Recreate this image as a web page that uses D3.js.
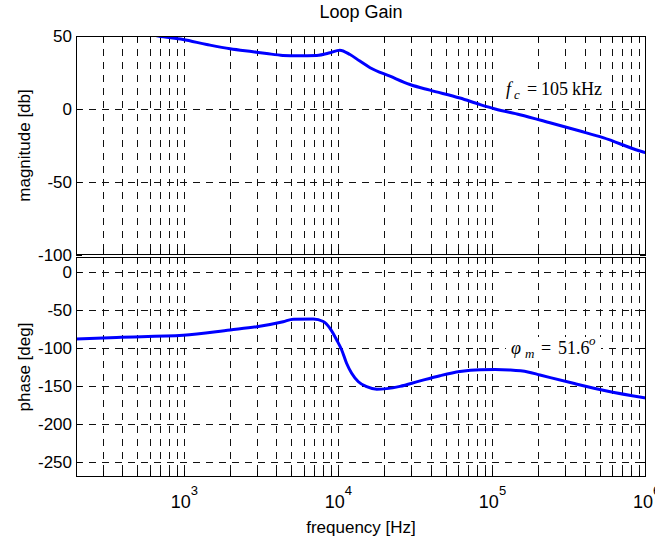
<!DOCTYPE html>
<html>
<head>
<meta charset="utf-8">
<script src="https://cdn.jsdelivr.net/npm/d3@7"></script>
<style>
  body { margin: 0; background: #fff; }
  svg { display: block; }
  text { font-family: "Liberation Sans", Arial, Helvetica, sans-serif; fill: #000; }
  .serif { font-family: "Liberation Serif", "Times New Roman", serif; }
</style>
</head>
<body>
<svg id="chart" width="655" height="543"></svg>
<script>
// Loop gain Bode data (frequency in Hz)
const magFreq = [500, 684, 990, 1410, 2000, 2820, 3450, 4400, 5500, 7300, 8900, 10300, 12000, 13900, 16200, 21800, 29400, 39600, 62000, 84000, 105000, 152000, 238000, 373000, 526000, 960000, 1000000];
const magDb   = [53, 50, 47.6, 44.2, 41.2, 39.2, 38, 36.7, 36.4, 36.7, 38.5, 40.3, 37.3, 32.8, 28.3, 22.5, 16.8, 12.9, 7.5, 3.0, 0, -3.9, -9.4, -15.1, -19.6, -29.5, -30];

const phaseFreq = [200, 367, 993, 2000, 2980, 4420, 5140, 6930, 8050, 8900, 9840, 10600, 11400, 12300, 13600, 15400, 17900, 20800, 25300, 33300, 46000, 62000, 84000, 105000, 130000, 171000, 205000, 338000, 556000, 1000000];
const phaseDeg  = [-88, -86, -83.3, -76.2, -71.9, -65.3, -62, -61.7, -65, -74, -89.4, -102.6, -120.1, -133.3, -144.4, -151, -154.4, -153.5, -150.5, -144, -136.5, -131, -128.6, -128.4, -129, -131.5, -135.5, -146.5, -156.6, -166];

const magTicks = [50, 0, -50, -100];
const phaseTicks = [0, -50, -100, -150, -200, -250];
const decadeTicks = [1e3, 1e4, 1e5, 1e6];
const decadeExp = ["3", "4", "5", "6"];

const titleText = "Loop Gain";
const xLabel = "frequency [Hz]";
const magLabel = "magnitude [db]";
const phaseLabel = "phase [deg]";

const freqDomain = [200, 1e6];
const magDomain = [-100, 50];
const phaseDomain = [-270, 20];

// layout
const left = 76, right = 646;
const magTop = 36, magBottom = 255;
const phTop = 257, phBottom = 477;
const tickLen = 6;
const px = v => Math.round(v) + 0.5;

const svg = d3.select("#chart");

const x = d3.scaleLog().domain(freqDomain).range([left, right]);
const yMag = d3.scaleLinear().domain(magDomain).range([magBottom, magTop]);
const yPh = d3.scaleLinear().domain(phaseDomain).range([phBottom, phTop]);

// all 1..9 multiples across the span, used for grid and ticks
const xGrid = x.ticks().filter(f => f > freqDomain[0] * 1.0001 && f < freqDomain[1] * 0.9999);

const defs = svg.append("defs");
defs.append("clipPath").attr("id", "clipMag")
  .append("rect").attr("x", left).attr("y", magTop).attr("width", right - left).attr("height", magBottom - magTop);
defs.append("clipPath").attr("id", "clipPh")
  .append("rect").attr("x", left).attr("y", phTop).attr("width", right - left).attr("height", phBottom - phTop);

function panel(yScale, yTicks, top, bottom) {
  const g = svg.append("g");

  // vertical dashed grid
  g.append("g").selectAll("line").data(xGrid).join("line")
    .attr("x1", d => px(x(d))).attr("x2", d => px(x(d)))
    .attr("y1", top).attr("y2", bottom)
    .attr("stroke", "#111").attr("stroke-width", 1)
    .attr("stroke-dasharray", "7,6");

  // horizontal dashed grid
  g.append("g").selectAll("line")
    .data(yTicks.filter(v => Math.abs(yScale(v) - top) > 1 && Math.abs(yScale(v) - bottom) > 1))
    .join("line")
    .attr("x1", left).attr("x2", right)
    .attr("y1", d => px(yScale(d))).attr("y2", d => px(yScale(d)))
    .attr("stroke", "#111").attr("stroke-width", 1)
    .attr("stroke-dasharray", "7,6");

  // ticks on all four sides, pointing inward
  const tk = g.append("g").attr("stroke", "#000").attr("stroke-width", 1);
  tk.selectAll("line.tb").data(xGrid).join("line")
    .attr("class", "tb")
    .attr("x1", d => px(x(d))).attr("x2", d => px(x(d)))
    .attr("y1", bottom).attr("y2", bottom - tickLen);
  tk.selectAll("line.tt").data(xGrid).join("line")
    .attr("class", "tt")
    .attr("x1", d => px(x(d))).attr("x2", d => px(x(d)))
    .attr("y1", top).attr("y2", top + tickLen);
  tk.selectAll("line.tl").data(yTicks).join("line")
    .attr("class", "tl")
    .attr("x1", left).attr("x2", left + tickLen)
    .attr("y1", d => px(yScale(d))).attr("y2", d => px(yScale(d)));
  tk.selectAll("line.tr").data(yTicks).join("line")
    .attr("class", "tr")
    .attr("x1", right - tickLen).attr("x2", right)
    .attr("y1", d => px(yScale(d))).attr("y2", d => px(yScale(d)));

  // y tick labels
  g.append("g").selectAll("text").data(yTicks).join("text")
    .attr("x", 72).attr("y", d => yScale(d))
    .attr("dy", "0.36em")
    .attr("text-anchor", "end")
    .attr("font-size", 17)
    .text(d => d);

  return g;
}

panel(yMag, magTicks, magTop, magBottom);
panel(yPh, phaseTicks, phTop, phBottom);

// annotation boxes (white background hides the grid behind the text)
function note(x0, y0, w, h) {
  svg.append("rect").attr("x", x0).attr("y", y0).attr("width", w).attr("height", h).attr("fill", "#fff");
}
note(500, 73, 110, 31);
note(506, 337, 95, 24);

// curves
const magLine = d3.line().curve(d3.curveMonotoneX)
  .x(d => x(d[0])).y(d => yMag(d[1]));
const phLine = d3.line().curve(d3.curveMonotoneX)
  .x(d => x(d[0])).y(d => yPh(d[1]));

svg.append("path")
  .datum(magFreq.map((f, i) => [f, magDb[i]]))
  .attr("clip-path", "url(#clipMag)")
  .attr("d", magLine)
  .attr("fill", "none").attr("stroke", "#0000ff").attr("stroke-width", 3)
  .attr("stroke-linejoin", "round");

svg.append("path")
  .datum(phaseFreq.map((f, i) => [f, phaseDeg[i]]))
  .attr("clip-path", "url(#clipPh)")
  .attr("d", phLine)
  .attr("fill", "none").attr("stroke", "#0000ff").attr("stroke-width", 3)
  .attr("stroke-linejoin", "round");

// frames
[[magTop, magBottom], [phTop, phBottom]].forEach(([t, b]) => {
  svg.append("rect")
    .attr("x", left + 0.5).attr("y", t + 0.5)
    .attr("width", right - left - 1).attr("height", b - t - 1)
    .attr("fill", "none").attr("stroke", "#000").attr("stroke-width", 1);
});

// annotation texts
const fc = svg.append("text").attr("class", "serif").attr("font-size", 18).attr("y", 95);
fc.append("tspan").attr("x", 506).attr("font-style", "italic").text("f");
fc.append("tspan").attr("x", 514).attr("dy", 4).attr("font-size", 13).attr("font-style", "italic").text("c");
fc.append("tspan").attr("x", 527).attr("dy", -4).text("=");
fc.append("tspan").attr("x", 541).text("105");
fc.append("tspan").attr("x", 572).text("kHz");

const pm = svg.append("text").attr("class", "serif").attr("font-size", 18).attr("y", 354);
pm.append("tspan").attr("x", 511).attr("font-style", "italic").text("φ");
pm.append("tspan").attr("x", 525).attr("dy", 4).attr("font-size", 13).attr("font-style", "italic").text("m");
pm.append("tspan").attr("x", 541).attr("dy", -4).text("=");
pm.append("tspan").attr("x", 558).text("51.6");
pm.append("tspan").attr("x", 589).attr("dy", -9).attr("font-size", 13).attr("font-style", "italic").text("o");

// x tick labels: 10^n
const xl = svg.append("g");
decadeTicks.forEach((f, i) => {
  const cx = x(f);
  xl.append("text").attr("x", cx + 7).attr("y", 508)
    .attr("text-anchor", "end").attr("font-size", 18).text("10");
  xl.append("text").attr("x", cx + 7).attr("y", 495)
    .attr("font-size", 13).text(decadeExp[i]);
});

// title and axis labels
svg.append("text").attr("x", (left + right) / 2).attr("y", 18)
  .attr("text-anchor", "middle").attr("font-size", 18).text(titleText);
svg.append("text").attr("x", (left + right) / 2).attr("y", 533)
  .attr("text-anchor", "middle").attr("font-size", 17).text(xLabel);
svg.append("text")
  .attr("transform", `translate(30,${(magTop + magBottom) / 2}) rotate(-90)`)
  .attr("text-anchor", "middle").attr("font-size", 17).text(magLabel);
svg.append("text")
  .attr("transform", `translate(30,${(phTop + phBottom) / 2}) rotate(-90)`)
  .attr("text-anchor", "middle").attr("font-size", 17).text(phaseLabel);
</script>
</body>
</html>
